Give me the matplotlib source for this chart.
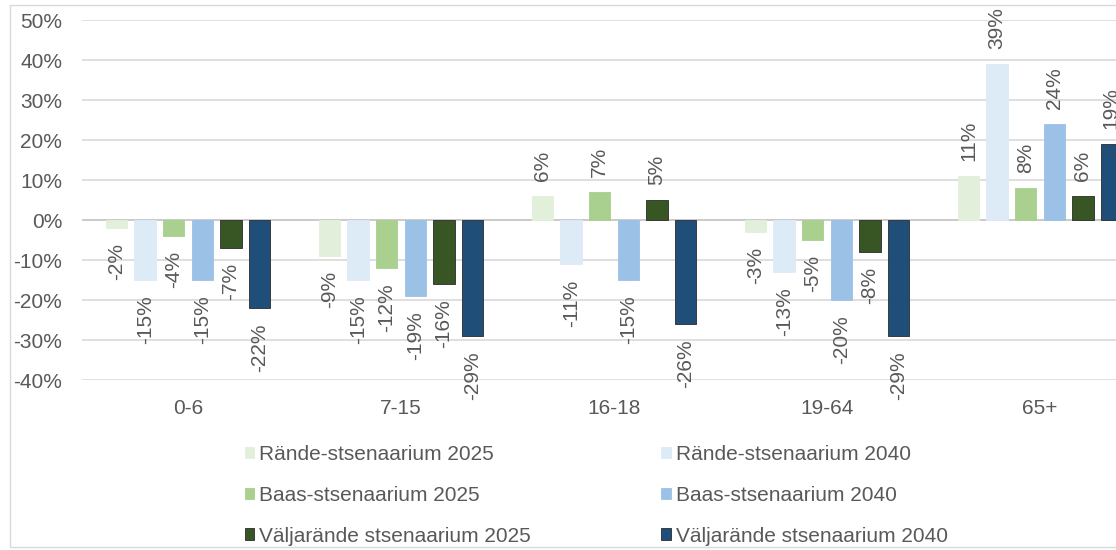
import numpy as np
import matplotlib
matplotlib.use("Agg")
import matplotlib.pyplot as plt
from matplotlib.patches import Rectangle

plt.rcParams['font.family'] = ['Liberation Sans', 'DejaVu Sans']

# age groups
categories = ['0-6', '7-15', '16-18', '19-64', '65+']

# change in population, %
series_names = [
    'Rände-stsenaarium 2025', 'Rände-stsenaarium 2040',
    'Baas-stsenaarium 2025', 'Baas-stsenaarium 2040',
    'Väljarände stsenaarium 2025', 'Väljarände stsenaarium 2040',
]
rande_2025 = [-2, -9, 6, -3, 11]
rande_2040 = [-15, -15, -11, -13, 39]
baas_2025 = [-4, -12, 7, -5, 8]
baas_2040 = [-15, -19, -15, -20, 24]
valja_2025 = [-7, -16, 5, -8, 6]
valja_2040 = [-22, -29, -26, -29, 19]
series_values = [rande_2025, rande_2040, baas_2025, baas_2040, valja_2025, valja_2040]

colors = ['#e2efda', '#ddebf7', '#a9d08e', '#9bc2e6', '#375623', '#1f4e78']
text_color = '#595959'
grid_color = '#d9d9d9'

fig = plt.figure(figsize=(11.16, 5.5), dpi=100)
# plot area runs past the right edge, as in the cropped original
ax = fig.add_axes([81.5 / 1116, 1 - 380 / 550, 1065 / 1116, 360 / 550])

# chart frame
fig.patches.append(Rectangle((10 / 1116, 3 / 550), 1.2, 542 / 550,
                             transform=fig.transFigure, fill=False,
                             edgecolor=grid_color, linewidth=1))

x = np.arange(len(categories))
step = 0.134
width = 0.101
fs = 15

handles = []
for i, (name, vals, col) in enumerate(zip(series_names, series_values, colors)):
    pos = x + (i - 2.5) * step
    edge = col if i < 4 else '#2b2b2b'
    bars = ax.bar(pos, vals, width, color=col, label=name,
                  edgecolor=edge, linewidth=0.6, zorder=3)
    handles.append(bars)
    for b, v in zip(bars, vals):
        off = 11 if v >= 0 else -11
        ax.annotate(f'{v}%', (b.get_x() + b.get_width() / 2, v),
                    xytext=(0, off), textcoords='offset points',
                    rotation=90, ha='center',
                    va='bottom' if v >= 0 else 'top',
                    fontsize=fs, color=text_color, zorder=4)

ax.set_xlim(-0.5, 4.5)
ax.set_ylim(-40, 50)
ax.set_yticks(range(-40, 51, 10))
ax.set_yticklabels([f'{t}%' for t in range(-40, 51, 10)])
ax.set_xticks(x)
ax.set_xticklabels(categories)
ax.tick_params(axis='both', length=0, labelsize=fs, labelcolor=text_color)
ax.tick_params(axis='y', pad=14)
ax.tick_params(axis='x', pad=14)

ax.grid(axis='y', color=grid_color, linewidth=1.2, zorder=0)
ax.axhline(0, color='#c8c8c8', linewidth=1.2, zorder=2)
for s in ax.spines.values():
    s.set_visible(False)

# legend fills row by row: 2025 left, 2040 right
order = [0, 2, 4, 1, 3, 5]
leg = fig.legend([handles[k] for k in order], [series_names[k] for k in order],
                 loc='upper left', bbox_to_anchor=(226 / 1116, 1 - 426 / 550),
                 ncol=2, frameon=False, fontsize=fs,
                 handlelength=0.45, handleheight=0.45, handletextpad=0.25,
                 columnspacing=6.25, labelspacing=1.05)
for t in leg.get_texts():
    t.set_color(text_color)

fig.savefig('out.png', dpi=100)
